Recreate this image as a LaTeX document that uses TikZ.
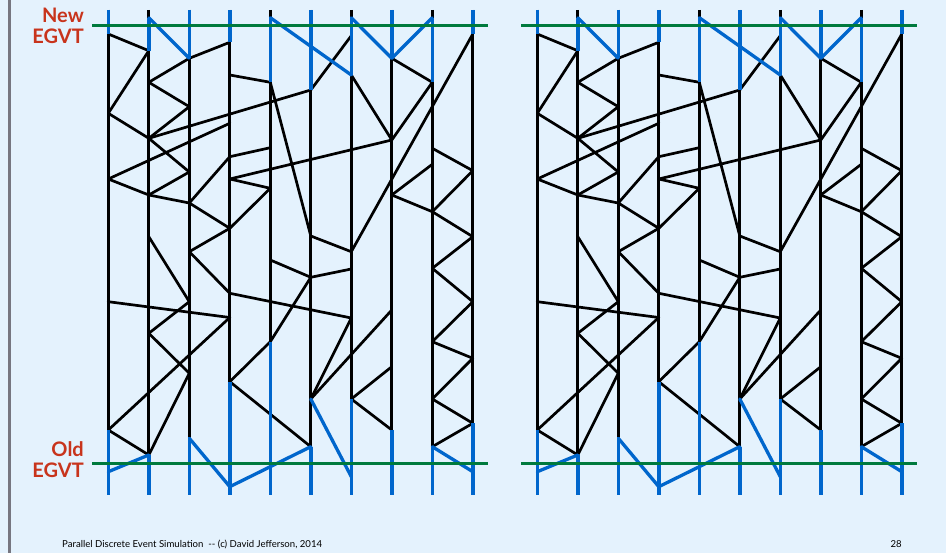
\documentclass[tikz,border=0pt]{standalone}
\usepackage{fontspec}
\setmainfont{Lato}
\usepackage{tikz}
\usetikzlibrary{positioning}

\definecolor{slidebg}{RGB}{228,242,253}
\definecolor{slideedge}{RGB}{118,118,128}
\definecolor{lateblue}{RGB}{0,102,204}
\definecolor{gvtgreen}{RGB}{0,122,61}
\definecolor{egvtred}{RGB}{200,52,28}

\tikzset{
	proc/.style={line width=2.8pt, black},
	msg/.style={line width=2.7pt, black, line cap=round},
	lateproc/.style={line width=3.4pt, lateblue},
	latemsg/.style={line width=3.3pt, lateblue, line cap=round},
	gvtline/.style={line width=3pt, gvtgreen},
	egvtlabel/.style={text=egvtred, font=\bfseries\fontsize{20}{21}\selectfont, align=right, inner sep=0pt}
}

\begin{document}
\begin{tikzpicture}[x=1pt, y=-1pt]
	\fill[slidebg] (0,0) rectangle (946,553);
	\fill[slideedge] (8,0) rectangle (10.5,553);

	\foreach \side/\dx in {L/0, R/429}{
	\begin{scope}[xshift=\dx pt]
		% process time lines
		\foreach \i in {1,...,10}{
			\coordinate (\side p\i top) at ({67.8+40.5*\i},10);
			\coordinate (\side p\i bot) at ({67.8+40.5*\i},495);
		}
		\coordinate (\side newW) at (92,26);
		\coordinate (\side newE) at (488,26);
		\coordinate (\side oldW) at (92,463.3);
		\coordinate (\side oldE) at (488,463.3);

		% events
		\foreach \ev/\i/\t in {
			p1a/1/34, p1b/1/113.3, p1c/1/179, p1d/1/301.7, p1e/1/430, p1f/1/471.7,
			p2a/2/17.7, p2b/2/50.7, p2c/2/82.3, p2d/2/138.3, p2e/2/195, p2f/2/236.7, p2g/2/333.3, p2h/2/455,
			p3a/3/58.3, p3b/3/106.7, p3c/3/172, p3d/3/203, p3e/3/251.7, p3f/3/301.7, p3g/3/373.3, p3h/3/438.3,
			p4a/4/42.3, p4b/4/75, p4c/4/123.3, p4d/4/156.7, p4e/4/179, p4f/4/228.3, p4g/4/293.3, p4h/4/317.5, p4i/4/381.7, p4j/4/486.7,
			p5a/5/17.7, p5b/5/82.3, p5c/5/147.7, p5d/5/188.3, p5e/5/260, p5f/5/341.7,
			p6a/6/90, p6b/6/236, p6c/6/277.3, p6d/6/399, p6e/6/446.7,
			p7a/7/17.7, p7b/7/35.7, p7c/7/75, p7d/7/251.7, p7e/7/269, p7f/7/318, p7g/7/399, p7h/7/476.7,
			p8a/8/58.3, p8b/8/140, p8c/8/195, p8d/8/310, p8e/8/366.7, p8f/8/430,
			p9a/9/17.7, p9b/9/82.3, p9c/9/148.3, p9d/9/164.3, p9e/9/211.7, p9f/9/268.3, p9g/9/341.7, p9h/9/399, p9i/9/446.7,
			p10a/10/34, p10b/10/170.7, p10c/10/236.7, p10d/10/301.7, p10e/10/358.3, p10f/10/423.3, p10g/10/471.7}
			\coordinate (\side\ev) at ({67.8+40.5*\i},\t);

		\foreach \i in {1,...,10}
			\draw[proc] (\side p\i top) -- (\side p\i bot);

		% messages before the new EGVT
		\foreach \a/\b in {
			p1a/p2b, p2b/p1b, p1b/p2d, p2d/p3c, p2c/p3a, p2c/p3b, p3b/p2d, p2d/p6a,
			p4c/p1c, p4b/p5b, p5b/p6b, p7c/p8b, p8b/p4e, p8b/p9b, p8a/p9b, p10a/p7d,
			p9c/p10b, p4d/p5c, p4d/p3d, p6a/p7b, p3a/p4a, p1c/p2e, p2e/p3c, p2e/p3d,
			p3d/p4f, p4f/p5d, p4e/p5d, p4f/p3e, p3e/p4g, p4g/p7f, p1d/p4h, p2f/p3f,
			p3f/p2g, p5e/p6c, p6c/p7e, p6c/p5f, p6b/p7d, p8c/p9e, p8c/p9d, p9e/p10b,
			p9e/p10c, p10c/p9f, p9f/p10d, p10d/p9g, p8d/p6d, p7f/p6d, p1e/p2h, p1e/p4h,
			p2g/p3g, p3g/p2h, p4i/p5f, p4i/p6e, p7g/p8e, p7g/p8f, p9g/p10e, p10e/p9h,
			p9h/p10f, p10f/p9i}
			\draw[msg] (\side\a) -- (\side\b);

		% parts outside the EGVT window
		\foreach \a/\b in {
			p1top/p1a, p2a/p2b, p3top/p3a, p4top/p4a, p5a/p5b, p6top/p6a, p7a/p7c, p8top/p8a, p9a/p9b, p10top/p10a,
			p1e/p1bot, p2h/p2bot, p3h/p3bot, p4i/p4bot, p5f/p5bot, p6e/p6bot, p7g/p7bot, p8f/p8bot, p9i/p9bot, p10f/p10bot}
			\draw[lateproc] (\side\a) -- (\side\b);
		\foreach \a/\b in {
			p2a/p3a, p5a/p7c, p7a/p8a, p8a/p9a,
			p1f/p2h, p3h/p4j, p4j/p6e, p6d/p7h, p9i/p10g}
			\draw[latemsg] (\side\a) -- (\side\b);

		\draw[gvtline] (\side newW) -- (\side newE);
		\draw[gvtline] (\side oldW) -- (\side oldE);
	\end{scope}
	}

	\node[egvtlabel, anchor=east] (newlabel) at (84,25.5) {New\\EGVT};
	\node[egvtlabel, anchor=east] (oldlabel) at (84,459.5) {Old\\EGVT};

	\node[anchor=base west, inner sep=0pt, font=\fontsize{9.6}{11}\selectfont] (footer) at (62,547)
		{Parallel Discrete Event Simulation\ \ -{}- (c) David Jefferson, 2014};
	\node[anchor=base east, inner sep=0pt, font=\fontsize{9.6}{11}\selectfont] (pagenum) at (902,547) {28};
\end{tikzpicture}
\end{document}
